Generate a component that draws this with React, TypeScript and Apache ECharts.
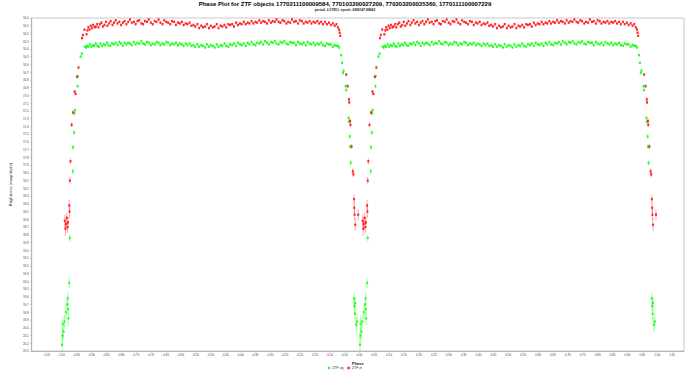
import React, { useEffect, useRef } from "react";
import * as echarts from "echarts";

const TITLE =
  "Phase Plot for ZTF objects 1770211100009584, 770103200027209, 770203200035360, 1770111100007229";
const SUBTITLE = "period: 2.27851, epoch: 2458147.88682";
const X_NAME = "Phase";
const Y_NAME = "Brightness (magnitude)";
const BAND_NAMES = ["ZTF zg", "ZTF zr"];
const BAND_COLORS = ["#00ff00", "#ff0000"];

const X_MIN = -1.1;
const X_MAX = 1.09;
const X_STEP = 0.05;
const Y_MIN = 16.0;
const Y_MAX = 20.3;
const Y_STEP = 0.1;

const PLATEAU_ERR_ZR = 0.016;
const PLATEAU_ERR_ZG = 0.018;

// zr (red) out-of-eclipse plateau: [phase, magnitude]
const zrPlateau: [number, number][] = [
  [-0.916,16.21],[-0.913,16.16],[-0.910,16.12],[-0.906,16.15],[-0.902,16.10],[-0.898,16.13],[-0.894,16.09],[-0.889,16.12],
  [-0.885,16.11],[-0.880,16.08],[-0.876,16.12],[-0.871,16.08],[-0.866,16.06],[-0.861,16.11],[-0.856,16.09],[-0.851,16.05],
  [-0.846,16.10],[-0.840,16.07],[-0.835,16.04],[-0.829,16.09],[-0.824,16.06],[-0.818,16.03],[-0.812,16.07],[-0.806,16.05],
  [-0.800,16.09],[-0.794,16.06],[-0.788,16.04],[-0.782,16.08],[-0.776,16.05],[-0.770,16.02],[-0.764,16.06],[-0.757,16.05],
  [-0.751,16.08],[-0.745,16.04],[-0.739,16.03],[-0.732,16.07],[-0.726,16.08],[-0.720,16.04],[-0.713,16.05],[-0.707,16.02],
  [-0.700,16.06],[-0.694,16.08],[-0.687,16.04],[-0.681,16.05],[-0.674,16.02],[-0.668,16.06],[-0.661,16.08],[-0.655,16.03],
  [-0.648,16.05],[-0.642,16.06],[-0.635,16.08],[-0.629,16.04],[-0.622,16.05],[-0.616,16.09],[-0.609,16.06],[-0.603,16.07],
  [-0.596,16.05],[-0.590,16.09],[-0.583,16.07],[-0.577,16.08],[-0.570,16.06],[-0.564,16.10],[-0.557,16.09],[-0.551,16.11],
  [-0.544,16.08],[-0.538,16.13],[-0.531,16.10],[-0.525,16.12],[-0.518,16.11],[-0.512,16.08],[-0.505,16.13],[-0.499,16.10],
  [-0.492,16.12],[-0.486,16.11],[-0.479,16.08],[-0.473,16.13],[-0.466,16.10],[-0.460,16.11],[-0.453,16.09],[-0.447,16.12],
  [-0.440,16.08],[-0.434,16.09],[-0.427,16.08],[-0.421,16.11],[-0.414,16.06],[-0.408,16.09],[-0.401,16.07],[-0.395,16.08],
  [-0.388,16.05],[-0.382,16.08],[-0.375,16.06],[-0.369,16.07],[-0.362,16.04],[-0.356,16.07],[-0.349,16.05],[-0.343,16.06],
  [-0.336,16.03],[-0.330,16.06],[-0.323,16.04],[-0.317,16.05],[-0.310,16.07],[-0.304,16.03],[-0.297,16.06],[-0.291,16.04],
  [-0.284,16.05],[-0.278,16.02],[-0.271,16.05],[-0.265,16.06],[-0.258,16.03],[-0.252,16.04],[-0.245,16.07],[-0.239,16.05],
  [-0.232,16.06],[-0.226,16.02],[-0.219,16.05],[-0.213,16.04],[-0.206,16.07],[-0.200,16.03],[-0.193,16.04],[-0.187,16.07],
  [-0.180,16.05],[-0.174,16.06],[-0.167,16.04],[-0.161,16.07],[-0.154,16.05],[-0.148,16.06],[-0.141,16.04],[-0.135,16.07],
  [-0.128,16.05],[-0.122,16.08],[-0.115,16.05],[-0.109,16.08],[-0.102,16.06],[-0.096,16.09],[-0.089,16.07],[-0.083,16.10],
  [-0.077,16.08],[-0.072,16.12],[-0.068,16.15],
];

// zg (green) out-of-eclipse plateau: [phase, magnitude]
const zgPlateau: [number, number][] = [
  [-0.918,16.38],[-0.914,16.36],[-0.910,16.37],[-0.905,16.34],[-0.900,16.37],[-0.895,16.35],[-0.890,16.36],[-0.885,16.33],
  [-0.880,16.36],[-0.875,16.37],[-0.869,16.33],[-0.864,16.36],[-0.858,16.34],[-0.853,16.35],[-0.847,16.32],[-0.842,16.35],
  [-0.836,16.36],[-0.830,16.33],[-0.824,16.34],[-0.818,16.32],[-0.812,16.35],[-0.806,16.31],[-0.800,16.33],[-0.794,16.36],
  [-0.788,16.32],[-0.782,16.34],[-0.776,16.32],[-0.770,16.33],[-0.764,16.35],[-0.757,16.31],[-0.751,16.34],[-0.745,16.32],
  [-0.739,16.33],[-0.732,16.30],[-0.726,16.33],[-0.720,16.34],[-0.713,16.31],[-0.707,16.32],[-0.700,16.35],[-0.694,16.33],
  [-0.687,16.34],[-0.681,16.31],[-0.674,16.32],[-0.668,16.35],[-0.661,16.33],[-0.655,16.34],[-0.648,16.31],[-0.642,16.32],
  [-0.635,16.35],[-0.629,16.33],[-0.622,16.34],[-0.616,16.32],[-0.609,16.35],[-0.603,16.33],[-0.596,16.34],[-0.590,16.36],
  [-0.583,16.33],[-0.577,16.35],[-0.570,16.33],[-0.564,16.36],[-0.557,16.35],[-0.551,16.37],[-0.544,16.34],[-0.538,16.37],
  [-0.531,16.35],[-0.525,16.36],[-0.518,16.38],[-0.512,16.34],[-0.505,16.37],[-0.499,16.35],[-0.492,16.36],[-0.486,16.38],
  [-0.479,16.34],[-0.473,16.37],[-0.466,16.35],[-0.460,16.36],[-0.453,16.33],[-0.447,16.36],[-0.440,16.37],[-0.434,16.34],
  [-0.427,16.35],[-0.421,16.33],[-0.414,16.36],[-0.408,16.32],[-0.401,16.34],[-0.395,16.35],[-0.388,16.33],[-0.382,16.36],
  [-0.375,16.32],[-0.369,16.34],[-0.362,16.31],[-0.356,16.34],[-0.349,16.35],[-0.343,16.32],[-0.336,16.33],[-0.330,16.31],
  [-0.323,16.34],[-0.317,16.30],[-0.310,16.32],[-0.304,16.34],[-0.297,16.31],[-0.291,16.32],[-0.284,16.30],[-0.278,16.33],
  [-0.271,16.34],[-0.265,16.31],[-0.258,16.32],[-0.252,16.30],[-0.245,16.33],[-0.239,16.34],[-0.232,16.31],[-0.226,16.32],
  [-0.219,16.32],[-0.213,16.35],[-0.206,16.31],[-0.200,16.33],[-0.193,16.34],[-0.187,16.32],[-0.180,16.35],[-0.174,16.31],
  [-0.167,16.33],[-0.161,16.34],[-0.154,16.32],[-0.148,16.35],[-0.141,16.33],[-0.135,16.34],[-0.128,16.32],[-0.122,16.35],
  [-0.115,16.36],[-0.109,16.33],[-0.102,16.34],[-0.096,16.34],[-0.089,16.37],[-0.083,16.35],[-0.077,16.36],[-0.072,16.36],
  [-0.068,16.38],
];

// eclipse points with their error: [phase, magnitude, error]
const zrEclipse: [number, number, number][] = [
  [-0.989,18.62,0.08],[-0.987,18.72,0.09],[-0.985,18.66,0.08],[-0.982,18.58,0.07],[-0.980,18.70,0.08],[-0.978,18.64,0.07],
  [-0.974,18.42,0.07],[-0.973,18.50,0.08],[-0.972,18.10,0.05],[-0.970,17.85,0.04],[-0.966,17.38,0.03],[-0.961,17.22,0.03],
  [-0.956,16.95,0.02],[-0.953,16.98,0.02],[-0.948,16.76,0.02],[-0.943,16.64,0.02],[-0.931,16.26,0.015],[-0.928,16.22,0.015],
  [-0.923,16.15,0.015],
  [-0.066,16.19,0.015],[-0.064,16.23,0.015],[-0.044,16.73,0.02],[-0.039,16.88,0.02],[-0.035,17.05,0.025],[-0.034,17.09,0.025],
  [-0.031,17.33,0.03],[-0.030,17.38,0.03],[-0.026,17.66,0.03],[-0.022,17.98,0.04],[-0.020,18.02,0.04],[-0.018,18.34,0.06],
  [-0.017,18.45,0.07],[-0.016,18.54,0.07],[-0.014,18.67,0.08],[-0.004,18.54,0.07],
];

const zgEclipse: [number, number, number][] = [
  [-0.998,20.22,0.12],[-0.997,20.10,0.10],[-0.996,19.95,0.10],[-0.993,20.05,0.10],[-0.990,19.92,0.09],[-0.985,19.80,0.09],
  [-0.981,19.70,0.08],[-0.979,19.62,0.08],[-0.978,19.76,0.08],[-0.977,19.88,0.09],[-0.974,19.42,0.07],[-0.972,18.84,0.05],
  [-0.962,17.98,0.04],[-0.961,17.67,0.03],[-0.958,17.48,0.03],[-0.957,17.23,0.025],[-0.955,17.19,0.025],[-0.946,16.88,0.02],
  [-0.945,16.75,0.02],[-0.936,16.50,0.02],[-0.932,16.46,0.02],[-0.922,16.37,0.015],
  [-0.061,16.48,0.02],[-0.058,16.58,0.02],[-0.055,16.71,0.02],[-0.053,16.68,0.02],[-0.046,16.88,0.02],[-0.044,16.93,0.02],
  [-0.036,17.29,0.025],[-0.035,17.34,0.025],[-0.032,17.53,0.03],[-0.031,17.66,0.03],[-0.029,17.87,0.04],[-0.018,19.62,0.08],
  [-0.017,19.72,0.09],[-0.015,19.82,0.09],[-0.014,19.68,0.08],[-0.011,19.96,0.10],[-0.008,19.92,0.10],
];

type Pt = [number, number, number];

// A phase plot shows the folded light curve over two cycles: phase p and p + 1.
function twoCycles(plateau: [number, number][], plateauErr: number, eclipse: Pt[]): Pt[] {
  const base: Pt[] = [
    ...plateau.map(([p, m]) => [p, m, plateauErr] as Pt),
    ...eclipse,
  ];
  return [...base, ...base.map(([p, m, e]) => [p + 1, m, e] as Pt)];
}

const FONT = "'Liberation Sans', Arial, sans-serif";

export default function App() {
  const ref = useRef<HTMLDivElement>(null);

  useEffect(() => {
    if (!ref.current) return;
    const chart = echarts.init(ref.current, undefined, { renderer: "svg" });
    const zg = twoCycles(zgPlateau, PLATEAU_ERR_ZG, zgEclipse);
    const zr = twoCycles(zrPlateau, PLATEAU_ERR_ZR, zrEclipse);

    const errSeries = (name: string, data: Pt[], color: string) => ({
      type: "custom",
      name,
      data,
      encode: { x: 0, y: 1 },
      clip: true,
      silent: true,
      z: 1,
      renderItem: (_params: any, api: any) => {
        const x = api.value(0);
        const y = api.value(1);
        const e = api.value(2);
        const a = api.coord([x, y - e]);
        const b = api.coord([x, y + e]);
        return {
          type: "line",
          shape: { x1: a[0], y1: a[1], x2: b[0], y2: b[1] },
          style: { stroke: color, lineWidth: 0.9, opacity: 0.4 },
        };
      },
    });

    const scatter = (name: string, data: Pt[], color: string) => ({
      type: "scatter",
      name,
      data: data.map(([p, m]) => [p, m]),
      symbol: "rect",
      symbolSize: [2, 2.4],
      itemStyle: { color },
      z: 3,
      clip: true,
    });

    chart.setOption({
      animation: false,
      backgroundColor: "#ffffff",
      textStyle: { fontFamily: FONT },
      title: {
        text: TITLE,
        subtext: SUBTITLE,
        left: "center",
        top: 0,
        itemGap: 1,
        padding: [1, 0, 0, 0],
        textStyle: { fontSize: 6, fontWeight: "bold", color: "#000", fontFamily: FONT },
        subtextStyle: { fontSize: 3.3, fontWeight: "bold", color: "#222", fontFamily: FONT },
      },
      legend: {
        data: BAND_NAMES,
        bottom: 1,
        left: "center",
        icon: "rect",
        itemWidth: 2.5,
        itemHeight: 2.5,
        itemGap: 4,
        padding: 0,
        textStyle: { fontSize: 3.5, color: "#333", fontFamily: FONT, padding: [0, 0, 0, -3] },
      },
      grid: {
        left: 18,
        right: 6,
        top: 18,
        bottom: 20,
        show: true,
        borderColor: "#c8c8c8",
        borderWidth: 1,
        backgroundColor: "#ffffff",
      },
      xAxis: {
        type: "value",
        min: X_MIN,
        max: X_MAX,
        interval: X_STEP,
        name: X_NAME,
        nameLocation: "middle",
        nameGap: 8,
        nameTextStyle: { fontSize: 4, fontWeight: "bold", color: "#222", fontFamily: FONT },
        axisLine: { show: true, onZero: false, lineStyle: { color: "#aaa", width: 0.8 } },
        axisTick: { show: true, length: 1.5, lineStyle: { color: "#aaa", width: 0.6 } },
        splitLine: { show: false },
        axisLabel: {
          fontSize: 3,
          color: "#444",
          margin: 2.5,
          showMinLabel: false,
          showMaxLabel: false,
          formatter: (v: number) => v.toFixed(2),
        },
      },
      yAxis: {
        type: "value",
        inverse: true,
        min: Y_MIN,
        max: Y_MAX,
        interval: Y_STEP,
        name: Y_NAME,
        nameLocation: "middle",
        nameGap: 11,
        nameRotate: 90,
        nameTextStyle: { fontSize: 4.2, color: "#333", fontFamily: FONT },
        axisLine: { show: true, onZero: false, lineStyle: { color: "#aaa", width: 0.8 } },
        axisTick: { show: true, length: 1.5, lineStyle: { color: "#aaa", width: 0.6 } },
        splitLine: { show: false },
        axisLabel: {
          fontSize: 3,
          color: "#444",
          margin: 3,
          formatter: (v: number) => v.toFixed(1),
        },
      },
      series: [
        errSeries("zg-err", zg, BAND_COLORS[0]),
        errSeries("zr-err", zr, BAND_COLORS[1]),
        scatter(BAND_NAMES[0], zg, BAND_COLORS[0]),
        scatter(BAND_NAMES[1], zr, BAND_COLORS[1]),
      ],
    });

    return () => chart.dispose();
  }, []);

  return (
    <div
      ref={ref}
      style={{ position: "fixed", left: 0, top: 0, width: 690, height: 371, background: "#fff" }}
    />
  );
}
